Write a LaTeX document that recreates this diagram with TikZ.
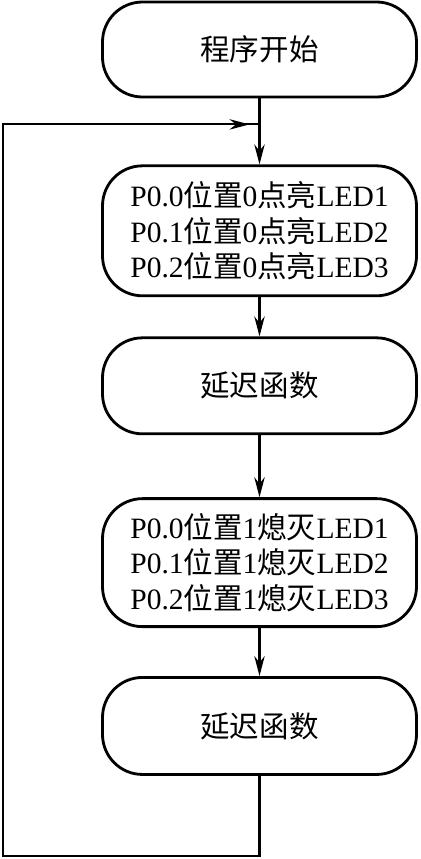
\documentclass[tikz,border=0pt]{standalone}
\usepackage{fontspec}
\setmainfont{Liberation Serif}
\newfontfamily\cjk{Noto Sans CJK SC}
\newcommand{\cn}[1]{{\cjk #1}}
\usetikzlibrary{positioning,arrows.meta}

\begin{document}
\begin{tikzpicture}[
  box/.style={draw, line width=2pt, rounded corners=1cm, minimum width=7.85cm, align=center, font=\fontsize{21}{25.5}\selectfont},
  arr/.style={-{Stealth[length=5mm,width=2.6mm]}, line width=1.5pt},
  wire/.style={line width=1.5pt},
  node distance=1.6cm
]
  \useasboundingbox (0,0) rectangle (10.5,-21.475);
  \node[box, minimum height=2.375cm] (start) at (6.4875,-1.2375) {\cn{程序开始}};
  \node[box, minimum height=3.25cm, below=1.65cm of start] (ledon) {P0.0\cn{位置}0\cn{点亮}LED1\\P0.1\cn{位置}0\cn{点亮}LED2\\P0.2\cn{位置}0\cn{点亮}LED3};
  \node[box, minimum height=2.4cm, below=0.98cm of ledon] (delayA) {\cn{延迟函数}};
  \node[box, minimum height=3.2cm, below=1.55cm of delayA] (ledoff) {P0.0\cn{位置}1\cn{熄灭}LED1\\P0.1\cn{位置}1\cn{熄灭}LED2\\P0.2\cn{位置}1\cn{熄灭}LED3};
  \node[box, minimum height=2.425cm, below=1.2cm of ledoff] (delayB) {\cn{延迟函数}};

  \coordinate[below=0.65cm of start.south] (merge);
  \coordinate (bottom) at (delayB.south |- 0,-21.4);
  \coordinate (leftbot) at (0.08,-21.4);
  \coordinate (lefttop) at (leftbot |- merge);

  \draw[arr] (start) -- (ledon);
  \draw[arr] (ledon) -- (delayA);
  \draw[arr] (delayA) -- (ledoff);
  \draw[arr] (ledoff) -- (delayB);
  \draw[wire] (delayB) -- (bottom) -- (leftbot) -- (lefttop) -- (merge);
  \draw[arr] (lefttop) -- ([xshift=-0.25cm]merge);
\end{tikzpicture}
\end{document}
